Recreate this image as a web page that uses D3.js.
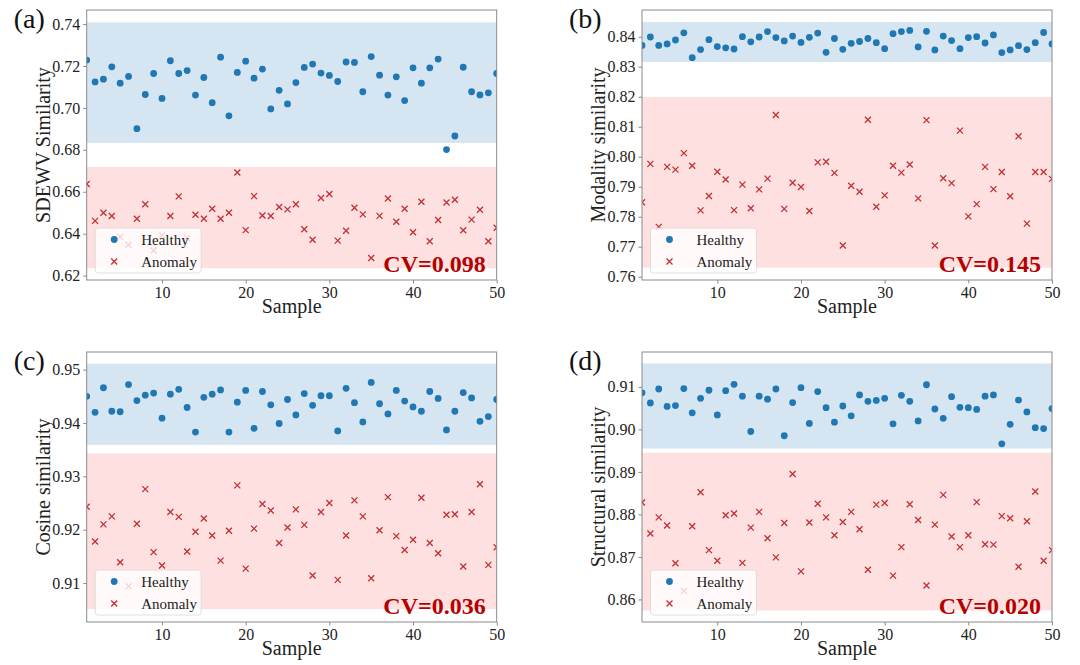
<!DOCTYPE html>
<html>
<head>
<meta charset="utf-8">
<script src="https://cdn.jsdelivr.net/npm/d3@7"></script>
<style>
  body { margin: 0; background: #fff; }
</style>
</head>
<body>
<svg id="canvas"></svg>
<script>
// ---- data ----
let sdewvHealthy = [0.7228,0.7124,0.7137,0.7196,0.7118,0.7150,0.6901,0.7064,0.7164,0.7045,
  0.7225,0.7164,0.7178,0.7061,0.7145,0.7025,0.7242,0.6962,0.7169,0.7223,
  0.7142,0.7185,0.6995,0.7084,0.7019,0.7121,0.7193,0.7209,0.7166,0.7155,
  0.7126,0.7219,0.7217,0.7077,0.7245,0.7156,0.7061,0.7148,0.7035,0.7191,
  0.7118,0.7191,0.7233,0.6801,0.6866,0.7194,0.7077,0.7062,0.7072,0.7164]
let sdewvAnomaly = [0.6637,0.6461,0.6500,0.6484,0.6385,0.6347,0.6471,0.6540,0.6320,0.6391,
  0.6484,0.6578,0.6380,0.6490,0.6471,0.6519,0.6471,0.6500,0.6692,0.6417,
  0.6579,0.6487,0.6484,0.6527,0.6516,0.6540,0.6421,0.6371,0.6570,0.6589,
  0.6367,0.6414,0.6524,0.6492,0.6284,0.6485,0.6568,0.6457,0.6519,0.6407,
  0.6552,0.6364,0.6465,0.6549,0.6562,0.6416,0.6467,0.6514,0.6364,0.6428]

let modalityHealthy = [0.8371,0.8399,0.8371,0.8376,0.8389,0.8413,0.8330,0.8357,0.8390,0.8367,
  0.8363,0.8359,0.8400,0.8383,0.8399,0.8417,0.8397,0.8386,0.8402,0.8381,
  0.8398,0.8412,0.8348,0.8394,0.8358,0.8378,0.8384,0.8394,0.8380,0.8360,
  0.8410,0.8417,0.8421,0.8366,0.8418,0.8356,0.8402,0.8387,0.8360,0.8397,
  0.8400,0.8379,0.8406,0.8347,0.8356,0.8370,0.8357,0.8380,0.8414,0.8376]
let modalityAnomaly = [0.7848,0.7976,0.7766,0.7966,0.7957,0.8012,0.7970,0.7821,0.7869,0.7950,
  0.7924,0.7822,0.7907,0.7828,0.7891,0.7927,0.8139,0.7826,0.7913,0.7899,
  0.7819,0.7981,0.7983,0.7946,0.7704,0.7903,0.7883,0.8123,0.7833,0.7871,
  0.7970,0.7947,0.7974,0.7861,0.8122,0.7704,0.7928,0.7912,0.8087,0.7801,
  0.7842,0.7966,0.7892,0.7949,0.7868,0.8068,0.7777,0.7949,0.7949,0.7926]

let cosineHealthy = [0.9450,0.9420,0.9466,0.9422,0.9421,0.9472,0.9442,0.9452,0.9456,0.9409,
  0.9454,0.9463,0.9429,0.9383,0.9448,0.9454,0.9462,0.9383,0.9439,0.9461,
  0.9390,0.9459,0.9434,0.9399,0.9444,0.9415,0.9455,0.9433,0.9451,0.9451,
  0.9385,0.9465,0.9438,0.9402,0.9476,0.9436,0.9417,0.9461,0.9441,0.9430,
  0.9422,0.9459,0.9446,0.9387,0.9422,0.9457,0.9447,0.9403,0.9412,0.9444]
let cosineAnomaly = [0.9243,0.9178,0.9210,0.9225,0.9139,0.9094,0.9211,0.9276,0.9158,0.9133,
  0.9233,0.9224,0.9159,0.9196,0.9221,0.9189,0.9142,0.9198,0.9283,0.9127,
  0.9202,0.9248,0.9236,0.9175,0.9204,0.9238,0.9209,0.9114,0.9233,0.9250,
  0.9106,0.9189,0.9255,0.9225,0.9109,0.9199,0.9261,0.9188,0.9162,0.9181,
  0.9260,0.9175,0.9156,0.9228,0.9229,0.9131,0.9233,0.9285,0.9134,0.9167]

let structuralHealthy = [0.9086,0.9062,0.9095,0.9054,0.9056,0.9096,0.9039,0.9073,0.9092,0.9034,
  0.9091,0.9106,0.9078,0.8995,0.9078,0.9071,0.9095,0.8985,0.9063,0.9098,
  0.9014,0.9089,0.9051,0.9017,0.9055,0.9032,0.9081,0.9066,0.9068,0.9073,
  0.9013,0.9080,0.9066,0.9020,0.9105,0.9048,0.9026,0.9077,0.9052,0.9051,
  0.9047,0.9078,0.9081,0.8966,0.9012,0.9069,0.9041,0.9004,0.9002,0.9049]
let structuralAnomaly = [0.8828,0.8755,0.8793,0.8774,0.8685,0.8620,0.8772,0.8852,0.8716,0.8691,
  0.8798,0.8802,0.8686,0.8769,0.8806,0.8744,0.8699,0.8780,0.8895,0.8666,
  0.8781,0.8825,0.8793,0.8751,0.8782,0.8806,0.8765,0.8670,0.8823,0.8827,
  0.8656,0.8723,0.8824,0.8787,0.8633,0.8776,0.8846,0.8748,0.8723,0.8751,
  0.8829,0.8730,0.8729,0.8796,0.8791,0.8677,0.8784,0.8854,0.8691,0.8716]

let panelLetters = ["(a)", "(b)", "(c)", "(d)"]
let yLabels = ["SDEWV Similarity", "Modality similarity", "Cosine similarity", "Structural similarity"]
let cvLabels = ["CV=0.098", "CV=0.145", "CV=0.036", "CV=0.020"]
let yLimits = [[0.6179, 0.7467], [0.7589, 0.8489], [0.9027, 0.9533], [0.8547, 0.9182]]
let yTicks = [[0.62, 0.64, 0.66, 0.68, 0.70, 0.72, 0.74],
  [0.76, 0.77, 0.78, 0.79, 0.80, 0.81, 0.82, 0.83, 0.84],
  [0.91, 0.92, 0.93, 0.94, 0.95],
  [0.86, 0.87, 0.88, 0.89, 0.90, 0.91]]
let healthyBands = [[0.6833, 0.7408], [0.8316, 0.8449], [0.9359, 0.9511], [0.8955, 0.9155]]
let anomalyBands = [[0.6235, 0.6718], [0.7630, 0.8199], [0.9051, 0.9343], [0.8574, 0.8945]]
let xTicks = [10, 20, 30, 40, 50]
let legendNames = ["Healthy", "Anomaly"]

// ---- layout ----
let width = 1080
let height = 665
let plotW = 410
let plotH = 270
let colLeft = [86.7, 642]
let rowTop = [10, 352]

let blue = "#1f77b4"
let red = "#c22f34"
let serif = "'Liberation Serif', 'Times New Roman', 'DejaVu Serif', serif"

let svg = d3.select("#canvas")
  .attr("width", width)
  .attr("height", height)
  .style("font-family", serif)

let panels = [
  {healthy: sdewvHealthy, anomaly: sdewvAnomaly},
  {healthy: modalityHealthy, anomaly: modalityAnomaly},
  {healthy: cosineHealthy, anomaly: cosineAnomaly},
  {healthy: structuralHealthy, anomaly: structuralAnomaly}
].map((p, i) => Object.assign(p, {
  left: colLeft[i % 2],
  top: rowTop[Math.floor(i / 2)],
  letter: panelLetters[i],
  yLabel: yLabels[i],
  cv: cvLabels[i],
  yLim: yLimits[i],
  ticks: yTicks[i],
  hBand: healthyBands[i],
  aBand: anomalyBands[i]
}))

let crossPath = "M-3,-3L3,3M-3,3L3,-3"

let drawPanel = (p, idx) => {
  let g = svg.append("g")
  let xScale = d3.scaleLinear().domain([1, 50]).range([p.left, p.left + plotW])
  let yScale = d3.scaleLinear().domain(p.yLim).range([p.top + plotH, p.top])

  let clipId = "clip" + idx
  svg.append("clipPath").attr("id", clipId)
    .append("rect")
    .attr("x", p.left).attr("y", p.top)
    .attr("width", plotW).attr("height", plotH)

  let inner = g.append("g").attr("clip-path", "url(#" + clipId + ")")

  // shaded ranges
  inner.append("rect")
    .attr("x", xScale(1)).attr("width", plotW)
    .attr("y", yScale(p.hBand[1]))
    .attr("height", yScale(p.hBand[0]) - yScale(p.hBand[1]))
    .attr("fill", blue).attr("fill-opacity", 0.19)
  inner.append("rect")
    .attr("x", xScale(1)).attr("width", plotW)
    .attr("y", yScale(p.aBand[1]))
    .attr("height", yScale(p.aBand[0]) - yScale(p.aBand[1]))
    .attr("fill", "#ff3030").attr("fill-opacity", 0.15)

  inner.selectAll("circle")
    .data(p.healthy)
    .enter()
    .append("circle")
    .attr("cx", (d, i) => xScale(i + 1))
    .attr("cy", (d) => yScale(d))
    .attr("r", 3.4)
    .attr("fill", blue)

  inner.selectAll("path.cross")
    .data(p.anomaly)
    .enter()
    .append("path")
    .attr("class", "cross")
    .attr("d", crossPath)
    .attr("transform", (d, i) => "translate(" + xScale(i + 1) + "," + yScale(d) + ")")
    .attr("stroke", red)
    .attr("stroke-width", 1.3)
    .attr("fill", "none")

  // legend
  let lg = g.append("g")
    .attr("transform", "translate(" + (p.left + 8.5) + "," + (p.top + plotH - 52) + ")")
  lg.append("rect")
    .attr("width", 106).attr("height", 45).attr("rx", 3)
    .attr("fill", "#fff").attr("fill-opacity", 0.8)
    .attr("stroke", "#d8d8d8").attr("stroke-width", 0.8)
  lg.append("circle").attr("cx", 19).attr("cy", 11.5).attr("r", 3.4).attr("fill", blue)
  lg.append("path").attr("d", crossPath)
    .attr("transform", "translate(19,33.5)")
    .attr("stroke", red).attr("stroke-width", 1.3)
  lg.selectAll("text")
    .data(legendNames)
    .enter()
    .append("text")
    .attr("x", 46)
    .attr("y", (d, i) => 16.5 + i * 22)
    .style("font-family", serif)
    .style("font-size", "15px")
    .attr("fill", "#222")
    .text((d) => d)

  // CV annotation
  g.append("text")
    .attr("x", p.left + plotW - 11)
    .attr("y", p.top + plotH - 8.5)
    .attr("text-anchor", "end")
    .style("font-family", serif)
    .style("font-size", "24px")
    .style("font-weight", "bold")
    .attr("fill", "#b50000")
    .text(p.cv)

  // frame
  g.append("rect")
    .attr("x", p.left).attr("y", p.top)
    .attr("width", plotW).attr("height", plotH)
    .attr("fill", "none").attr("stroke", "#8a8a8a").attr("stroke-width", 1)

  let xAxis = d3.axisBottom(xScale).tickValues(xTicks).tickSize(3.5).tickPadding(3)
  let yAxis = d3.axisLeft(yScale).tickValues(p.ticks).tickFormat(d3.format(".2f")).tickSize(3.5).tickPadding(3)

  let gx = g.append("g")
    .attr("transform", "translate(0," + (p.top + plotH) + ")")
    .call(xAxis)
  let gy = g.append("g")
    .attr("transform", "translate(" + p.left + ",0)")
    .call(yAxis)
  ;[gx, gy].forEach((a) => {
    a.attr("font-family", null).attr("font-size", null)
    a.select(".domain").remove()
    a.selectAll("line").attr("stroke", "#8a8a8a")
    a.selectAll("text")
      .style("font-family", serif)
      .style("font-size", "16px")
      .attr("fill", "#222")
  })

  g.append("text")
    .attr("x", p.left + plotW / 2)
    .attr("y", p.top + plotH + 33)
    .attr("text-anchor", "middle")
    .style("font-family", serif)
    .style("font-size", "20px")
    .attr("fill", "#222")
    .text("Sample")

  g.append("text")
    .attr("transform", "translate(" + (p.left - 44) + "," + (p.top + plotH / 2) + ") rotate(-90)")
    .attr("text-anchor", "middle")
    .attr("dominant-baseline", "central")
    .style("font-family", serif)
    .style("font-size", "20px")
    .attr("fill", "#222")
    .text(p.yLabel)

  g.append("text")
    .attr("x", p.left - 73)
    .attr("y", p.top + 18)
    .style("font-family", serif)
    .style("font-size", "28px")
    .attr("fill", "#111")
    .text(p.letter)
}

panels.forEach(drawPanel)
</script>
</body>
</html>
